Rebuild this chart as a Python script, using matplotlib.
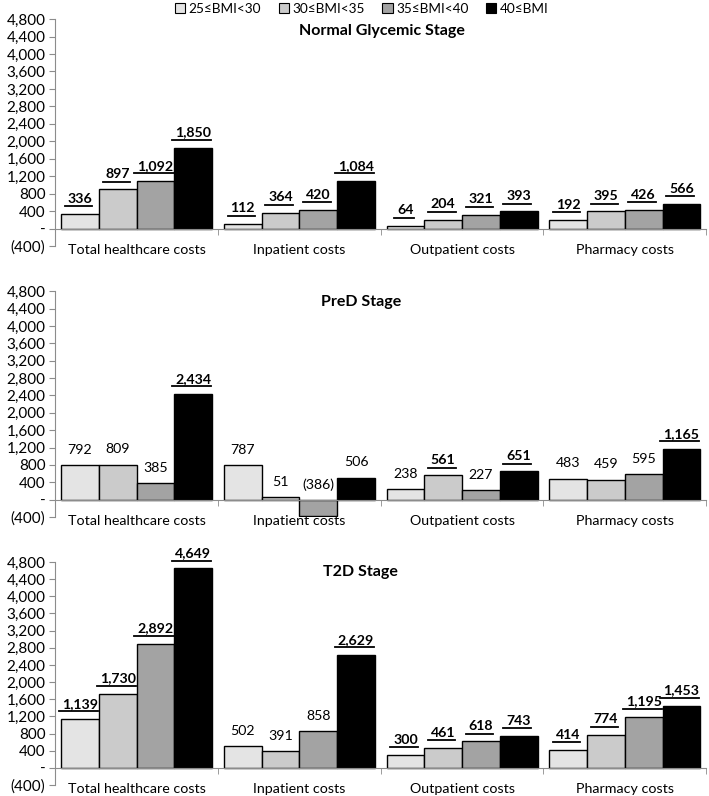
import matplotlib
matplotlib.use("Agg")
import matplotlib.pyplot as plt
from matplotlib.lines import Line2D
from matplotlib.patches import Patch
from matplotlib.ticker import FuncFormatter
import numpy as np

plt.rcParams['font.family'] = ['Lato', 'DejaVu Sans']

categories = ["Total healthcare costs", "Inpatient costs", "Outpatient costs", "Pharmacy costs"]
groups = ["25≤BMI<30", "30≤BMI<35", "35≤BMI<40", "40≤BMI"]
colors = ["#e4e4e4", "#cbcbcb", "#a3a3a3", "#000000"]
stages = ["Normal Glycemic Stage", "PreD Stage", "T2D Stage"]

# values[group] -> list over categories
normal_vals = [[336, 112, 64, 192],
               [897, 364, 204, 395],
               [1092, 420, 321, 426],
               [1850, 1084, 393, 566]]
pred_vals = [[792, 787, 238, 483],
             [809, 51, 561, 459],
             [385, -386, 227, 595],
             [2434, 506, 651, 1165]]
t2d_vals = [[1139, 502, 300, 414],
            [1730, 391, 461, 774],
            [2892, 858, 618, 1195],
            [4649, 2629, 743, 1453]]

# 1 = bold + underlined (significant)
normal_sig = [[1, 1, 1, 1], [1, 1, 1, 1], [1, 1, 1, 1], [1, 1, 1, 1]]
pred_sig = [[0, 0, 0, 0], [0, 0, 1, 0], [0, 0, 0, 0], [1, 0, 1, 1]]
t2d_sig = [[1, 0, 1, 1], [1, 0, 1, 1], [1, 0, 1, 1], [1, 1, 1, 1]]

all_vals = [normal_vals, pred_vals, t2d_vals]
all_sig = [normal_sig, pred_sig, t2d_sig]
title_x = [1.51, 1.38, 1.375]
title_y = [4530, 4560, 4560]

fig = plt.figure(figsize=(7.09, 7.96), dpi=100)
rects = [[0.078, 0.691, 0.918, 0.285],
         [0.078, 0.3505, 0.918, 0.2835],
         [0.078, 0.0138, 0.918, 0.2802]]

def fmt(v, pos=None):
    if v == 0:
        return "-"
    if v < 0:
        return "({:,.0f})".format(-v)
    return "{:,.0f}".format(v)

w = 0.232
x = np.arange(len(categories))
labels_to_underline = []
for s in range(3):
    ax = fig.add_axes(rects[s])
    for g in range(4):
        xs = x + (g - 1.5) * w
        ax.bar(xs, all_vals[s][g], width=w, color=colors[g], edgecolor="black", linewidth=1.0, zorder=2)
        for i in range(len(categories)):
            v = all_vals[s][g][i]
            sig = all_sig[s][g][i]
            ytop = max(v, 0)
            t = ax.annotate(fmt(v), (xs[i], ytop), xytext=(0, 11), textcoords="offset points",
                            ha="center", va="center", fontsize=10.2,
                            fontweight="bold" if sig else "normal")
            if sig:
                labels_to_underline.append(t)
    ax.set_xlim(-0.5, 3.5)
    ax.set_ylim(-400, 4800)
    ax.set_yticks(np.arange(-400, 4801, 400))
    ax.yaxis.set_major_formatter(FuncFormatter(fmt))
    for sp in ["top", "right"]:
        ax.spines[sp].set_visible(False)
    ax.spines["left"].set_color("#8c8c8c")
    ax.spines["bottom"].set_color("#8c8c8c")
    ax.spines["bottom"].set_position(("data", 0))
    ax.set_xticks(x)
    ax.set_xticklabels(categories)
    ax.set_xticks([0.5, 1.5, 2.5, 3.5], minor=True)
    ax.tick_params(axis="x", which="major", length=0, pad=11, labelsize=10.3)
    ax.tick_params(axis="x", which="minor", length=4, color="#8c8c8c")
    ax.tick_params(axis="y", length=4, color="#8c8c8c", labelsize=11, pad=3)
    ax.text(title_x[s], title_y[s], stages[s], ha="center", va="center", fontsize=11.5, fontweight="bold")

handles = [Patch(facecolor=c, edgecolor="black", linewidth=0.8) for c in colors]
fig.legend(handles, groups, loc="upper center", bbox_to_anchor=(0.51, 1.012), ncol=4, frameon=False,
           fontsize=9.8, handlelength=0.75, handleheight=0.75, handletextpad=0.25, columnspacing=1.3)

fig.canvas.draw()
r = fig.canvas.get_renderer()
W, H = fig.get_size_inches() * fig.dpi
for t in labels_to_underline:
    bb = t.get_window_extent(renderer=r)
    y = bb.y0 - 1.5
    fig.add_artist(Line2D([(bb.x0 - 3) / W, (bb.x1) / W], [y / H, y / H],
                          color="black", linewidth=1.3, transform=fig.transFigure))

fig.savefig("out.png", dpi=100)
